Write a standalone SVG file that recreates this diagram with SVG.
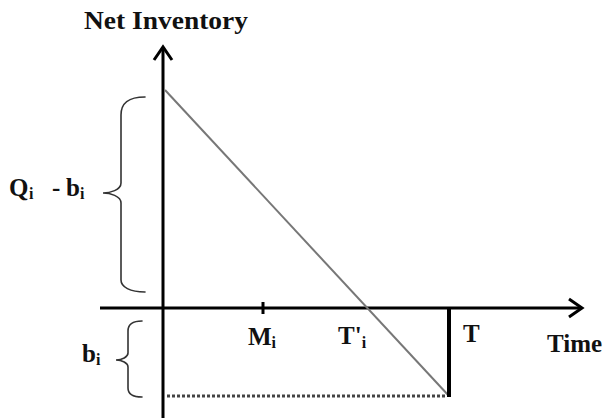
<svg xmlns="http://www.w3.org/2000/svg" width="605" height="418" viewBox="0 0 605 418">
<style>
text{font-family:'Liberation Serif','DejaVu Serif',serif;font-weight:700;fill:#111}
.ax{stroke:#000;stroke-width:3;fill:none}
.br{stroke:#333;stroke-width:1.6;fill:none;stroke-linecap:round}
.lbl{font-size:25px}
.sub{font-size:16px}
</style>
<rect width="605" height="418" fill="#fff"/>
<g id="connectors">
<line class="ax" x1="163" y1="47" x2="163" y2="418"/>
<polyline class="ax" points="154,60 163,47 172,60"/>
<line class="ax" x1="100" y1="308" x2="582" y2="308"/>
<polyline class="ax" points="569,299 582,308 569,317"/>
<line class="ax" x1="263" y1="302" x2="263" y2="314"/>
<line x1="165" y1="90" x2="449" y2="396" stroke="#777" stroke-width="2"/>
<line x1="449" y1="307" x2="449" y2="397" stroke="#000" stroke-width="4"/>
<line x1="167" y1="396" x2="447" y2="396" stroke="#444" stroke-width="3" stroke-dasharray="3 2"/>
<path class="br" d="M145,97 C128,97 121,103 121,115 L121,183 C121,190 110,193 103,193 C110,193 121,196 121,203 L121,280 C121,287 130,292 145,292"/>
<path class="br" d="M142,321 C133,321 128,324 128,331 L128,353 C128,357 122,360 116,360 C122,360 128,363 128,367 L128,388 C128,394 133,397 142,397"/>
</g>
<g id="label-net-inventory"><text class="lbl" x="84" y="29" textLength="164" lengthAdjust="spacingAndGlyphs">Net Inventory</text></g>
<g id="label-qb"><text font-size="25" y="196"><tspan x="9">Q</tspan><tspan class="sub" x="29" y="199">i</tspan><tspan x="52" y="196">-</tspan><tspan x="66">b</tspan><tspan class="sub" x="80" y="199">i</tspan></text></g>
<g id="label-b"><text font-size="25" y="362"><tspan x="82">b</tspan><tspan class="sub" x="96" y="365">i</tspan></text></g>
<g id="label-m"><text class="lbl" x="248" y="345">M<tspan class="sub" dy="3">i</tspan></text></g>
<g id="label-tp"><text class="lbl" x="338" y="344">T'<tspan class="sub" dy="4">i</tspan></text></g>
<g id="label-t"><text class="lbl" x="463" y="342">T</text></g>
<g id="label-time"><text class="lbl" x="547" y="352">Time</text></g>
</svg>
